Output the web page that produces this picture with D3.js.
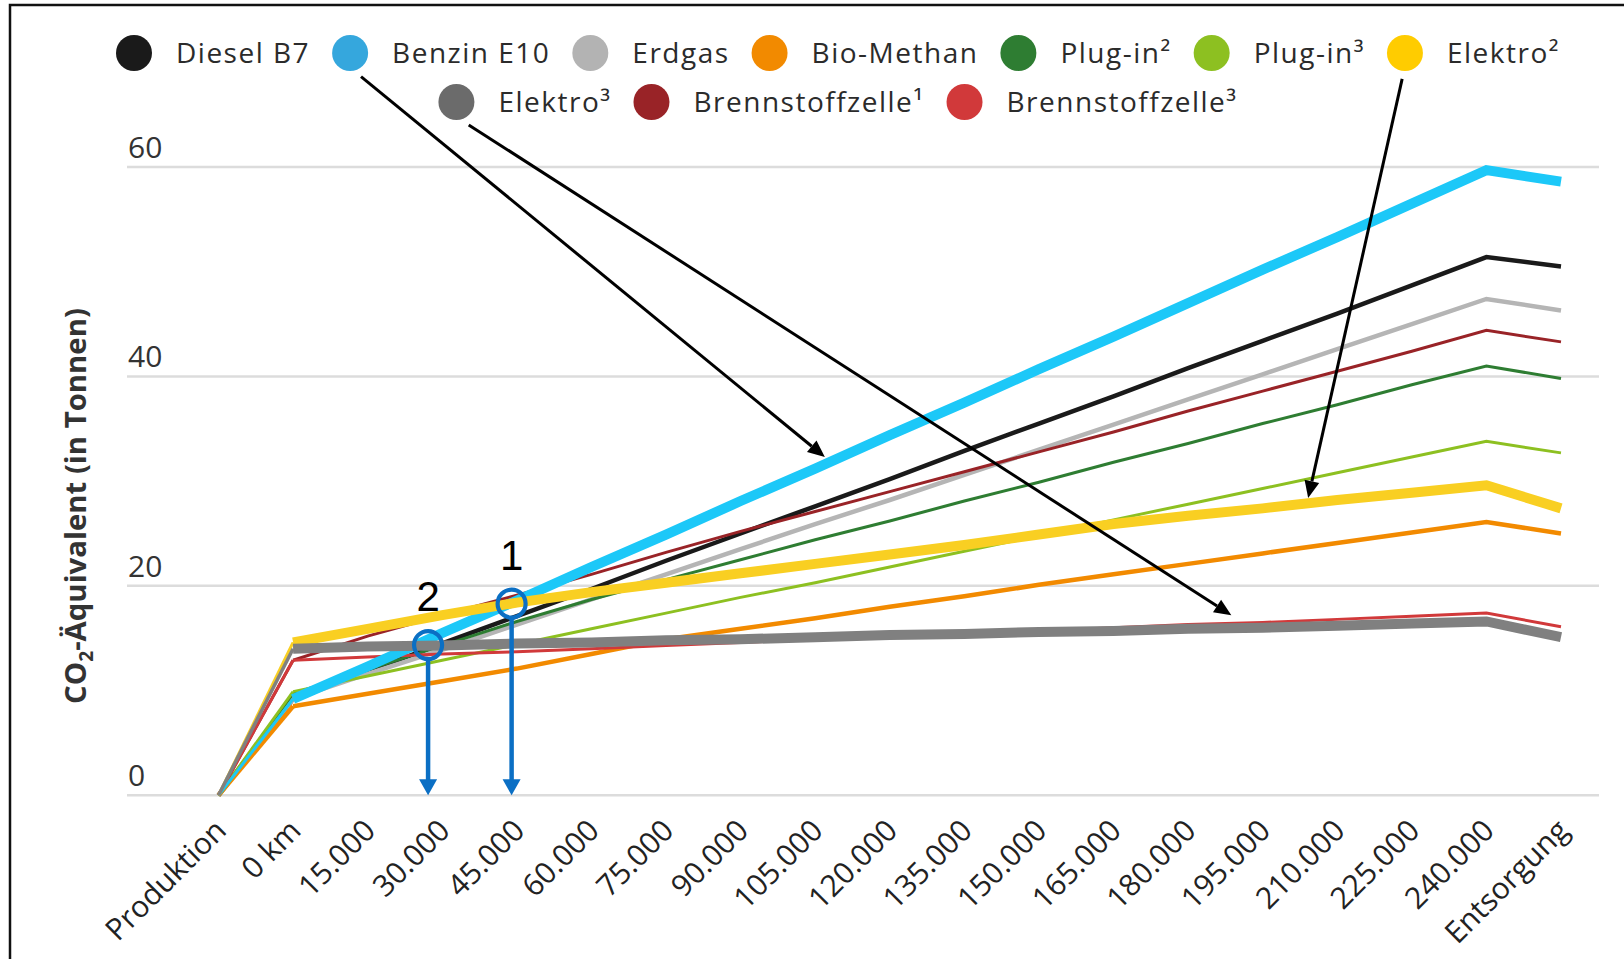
<!DOCTYPE html>
<html>
<head>
<meta charset="utf-8">
<script src="https://cdn.jsdelivr.net/npm/d3@7"></script>
<style>
  body { margin: 0; background: #fff; }
  svg { display: block; font-family: "Open Sans", sans-serif; }
</style>
</head>
<body>
<script>
// categories on the x axis
const categories = ["Produktion", "0 km", "15.000", "30.000", "45.000", "60.000", "75.000", "90.000",
  "105.000", "120.000", "135.000", "150.000", "165.000", "180.000", "195.000", "210.000",
  "225.000", "240.000", "Entsorgung"];

const seriesNames = ["Diesel B7", "Benzin E10", "Erdgas", "Bio-Methan", "Plug-in²", "Plug-in³",
  "Elektro²", "Elektro³", "Brennstoffzelle¹", "Brennstoffzelle³"];

// CO2 in tonnes
const dieselB7 = [0, 9.2, 11.8, 14.5, 17.1, 19.7, 22.4, 25.0, 27.6, 30.2, 32.9, 35.5, 38.1, 40.8, 43.4, 46.0, 48.7, 51.4, 50.5];
const benzinE10 = [0, 9.2, 12.3, 15.5, 18.6, 21.8, 24.9, 28.1, 31.2, 34.4, 37.5, 40.7, 43.8, 47.0, 50.2, 53.3, 56.5, 59.7, 58.6];
const erdgas = [0, 9.2, 11.6, 13.9, 16.3, 18.7, 21.1, 23.5, 25.9, 28.2, 30.6, 33.0, 35.4, 37.8, 40.2, 42.6, 45.0, 47.4, 46.3];
const bioMethan = [0, 8.5, 9.7, 10.9, 12.1, 13.5, 14.9, 15.9, 16.9, 18.0, 19.0, 20.1, 21.1, 22.1, 23.1, 24.1, 25.1, 26.1, 25.0];
const plugIn2 = [0, 9.7, 12.0, 14.3, 16.6, 18.7, 20.6, 22.5, 24.4, 26.2, 28.1, 29.9, 31.8, 33.6, 35.5, 37.3, 39.2, 41.0, 39.8];
const plugIn3 = [0, 9.9, 11.4, 12.9, 14.4, 15.9, 17.4, 18.9, 20.3, 21.8, 23.3, 24.8, 26.3, 27.8, 29.3, 30.8, 32.3, 33.8, 32.7];
const elektro2 = [0, 14.6, 15.9, 17.2, 18.4, 19.4, 20.3, 21.2, 22.1, 23.0, 23.9, 24.9, 25.9, 26.7, 27.4, 28.2, 28.9, 29.6, 27.4];
const elektro3 = [0, 14.0, 14.2, 14.3, 14.5, 14.6, 14.8, 14.9, 15.1, 15.3, 15.4, 15.6, 15.7, 15.9, 16.0, 16.2, 16.4, 16.6, 15.1];
const brennstoffzelle1 = [0, 12.9, 15.2, 17.2, 19.1, 21.1, 23.2, 25.2, 27.1, 29.0, 30.9, 32.8, 34.7, 36.7, 38.6, 40.5, 42.4, 44.4, 43.3];
const brennstoffzelle3 = [0, 12.9, 13.2, 13.5, 13.7, 14.0, 14.3, 14.6, 14.9, 15.1, 15.4, 15.7, 16.0, 16.3, 16.5, 16.8, 17.1, 17.4, 16.1];

const seriesValues = [dieselB7, benzinE10, erdgas, bioMethan, plugIn2, plugIn3, elektro2, elektro3, brennstoffzelle1, brennstoffzelle3];

const yTicks = [0, 20, 40, 60];

// marked crossings (category position, value) and the pointers from the legend
const crossings = [{ label: "1", at: 3.93, value: 18.3 }, { label: "2", at: 2.81, value: 14.35 }];
const pointers = [
  { series: "Benzin E10", at: 8.13, value: 32.3 },
  { series: "Elektro³", at: 13.58, value: 17.2 },
  { series: "Elektro²", at: 14.61, value: 28.4 }
];

// styles
const legendColor = ["#1a1a1a", "#35a7dd", "#b3b3b3", "#f28a00", "#2e7d32", "#8dc021", "#ffcc00", "#6b6b6b", "#992327", "#d1393a"];
const lineColor = ["#1a1a1a", "#1cc8f8", "#b5b5b5", "#f28a00", "#2e7d32", "#8dc021", "#f9cf22", "#808080", "#992327", "#d1393a"];
const lineWidth = [4.5, 10, 4.5, 4.5, 3, 3, 10, 10, 3, 3];
// the highlighted (thick) lines only start at 0 km, the production step stays thin
const leadWidth = [4.5, 3, 4.5, 4.5, 3, 3, 3, 3.5, 3, 3];
const drawOrder = ["Diesel B7", "Erdgas", "Bio-Methan", "Plug-in²", "Plug-in³", "Brennstoffzelle¹",
  "Brennstoffzelle³", "Benzin E10", "Elektro²", "Elektro³"];

const W = 1624, H = 959;
const svg = d3.select("body").append("svg").attr("width", W).attr("height", H);

// frame (left and top edge only, like a cropped screenshot)
svg.append("path").attr("d", `M10,${H} V5 H${W}`).attr("fill", "none").attr("stroke", "#111").attr("stroke-width", 2.5);

const x = d3.scalePoint().domain(categories).range([218.5, 1561]);
const xAt = i => x(categories[0]) + i * x.step();
const y = d3.scaleLinear().domain([0, 60]).range([795.3, 167]);

// grid
svg.append("g").selectAll("line").data(yTicks).enter().append("line")
  .attr("x1", 127).attr("x2", 1599)
  .attr("y1", d => y(d)).attr("y2", d => y(d))
  .attr("stroke", "#dcdcdc").attr("stroke-width", 2.5);

svg.append("g").selectAll("text").data(yTicks).enter().append("text")
  .attr("x", 128).attr("y", d => y(d) - 9)
  .attr("font-size", 30).attr("fill", "#333")
  .text(d => d);

// y title
const yTitle = svg.append("text")
  .attr("text-anchor", "middle").attr("font-size", 29).attr("font-weight", "bold").attr("fill", "#333");
yTitle.append("tspan").text("CO");
yTitle.append("tspan").attr("font-size", 19).attr("dy", 7).text("2");
yTitle.append("tspan").attr("dy", -7).text("-Äquivalent (in Tonnen)");
const titleLen = yTitle.node().getComputedTextLength();
yTitle.attr("transform", `translate(86,506) rotate(-90) scale(${396 / titleLen},1)`);

// x axis
const xAxis = svg.append("g")
  .attr("transform", `translate(0,${y(0)})`)
  .call(d3.axisBottom(x).tickSize(0));
xAxis.select(".domain").remove();
xAxis.selectAll("text")
  .attr("x", null).attr("y", null).attr("dy", null)
  .attr("transform", "translate(9,37) rotate(-45)")
  .attr("text-anchor", "end")
  .attr("font-family", "Open Sans, sans-serif")
  .attr("font-size", 30)
  .attr("fill", "#222");

// lines
const lead = d3.line().defined((d, i) => i <= 1).x((d, i) => x(categories[i])).y(d => y(d));
const line = d3.line().defined((d, i) => i >= 1).x((d, i) => x(categories[i])).y(d => y(d));
const linesG = svg.append("g");
drawOrder.forEach(name => {
  const k = seriesNames.indexOf(name);
  linesG.append("path")
    .attr("d", lead(seriesValues[k]))
    .attr("fill", "none").attr("stroke", lineColor[k]).attr("stroke-width", leadWidth[k]);
  linesG.append("path")
    .attr("d", line(seriesValues[k]))
    .attr("fill", "none").attr("stroke", lineColor[k]).attr("stroke-width", lineWidth[k])
    .attr("stroke-linejoin", "miter");
});

// legend, two centred rows
const legendPos = {};
const legendRows = [seriesNames.slice(0, 7), seriesNames.slice(7)];
legendRows.forEach((row, r) => {
  const cy = 53 + r * 49;
  const rowG = svg.append("g");
  let cursor = 0;
  row.forEach(name => {
    const k = seriesNames.indexOf(name);
    rowG.append("circle").attr("cx", cursor + 18).attr("cy", cy).attr("r", 18).attr("fill", legendColor[k]);
    const t = rowG.append("text")
      .attr("x", cursor + 60).attr("y", cy + 10)
      .attr("font-size", 28).attr("letter-spacing", 1.5).attr("fill", "#2b2b2b")
      .text(name);
    legendPos[name] = { x: cursor + 18, y: cy };
    cursor += 60 + t.node().getComputedTextLength() + 22;
  });
  const shift = 838 - (cursor - 22) / 2;
  rowG.attr("transform", `translate(${shift},0)`);
  row.forEach(name => { legendPos[name].x += shift; });
});

// blue crossing markers
const blue = "#0b6fc4";
crossings.forEach(c => {
  const cx = xAt(c.at), cy = y(c.value), r = 14;
  const g = svg.append("g");
  g.append("line").attr("x1", cx).attr("x2", cx).attr("y1", cy + r).attr("y2", y(0) - 14)
    .attr("stroke", blue).attr("stroke-width", 4.5);
  g.append("path").attr("d", `M${cx - 9},${y(0) - 16} L${cx + 9},${y(0) - 16} L${cx},${y(0)} Z`).attr("fill", blue);
  g.append("circle").attr("cx", cx).attr("cy", cy).attr("r", r)
    .attr("fill", "none").attr("stroke", blue).attr("stroke-width", 4.2);
  g.append("text").attr("x", cx).attr("y", cy - 34).attr("text-anchor", "middle")
    .attr("font-family", "Liberation Sans, sans-serif").attr("font-size", 42).attr("fill", "#000")
    .text(c.label);
});

// black pointers from legend dots to the lines
pointers.forEach(p => {
  const from = legendPos[p.series];
  const tx = xAt(p.at), ty = y(p.value);
  let dx = tx - from.x, dy = ty - from.y;
  let len = Math.hypot(dx, dy);
  let bx = dx / len, by = dy / len + 1;
  const bl = Math.hypot(bx, by);
  const sx = from.x + 26 * bx / bl, sy = from.y + 26 * by / bl;
  dx = tx - sx; dy = ty - sy; len = Math.hypot(dx, dy);
  const ux = dx / len, uy = dy / len;
  const hl = 17, hw = 7.5;
  const g = svg.append("g");
  g.append("line").attr("x1", sx).attr("y1", sy).attr("x2", tx - ux * hl).attr("y2", ty - uy * hl)
    .attr("stroke", "#000").attr("stroke-width", 3);
  g.append("path")
    .attr("d", `M${tx},${ty} L${tx - ux * hl - uy * hw},${ty - uy * hl + ux * hw} L${tx - ux * hl + uy * hw},${ty - uy * hl - ux * hw} Z`)
    .attr("fill", "#000");
});
</script>
</body>
</html>
